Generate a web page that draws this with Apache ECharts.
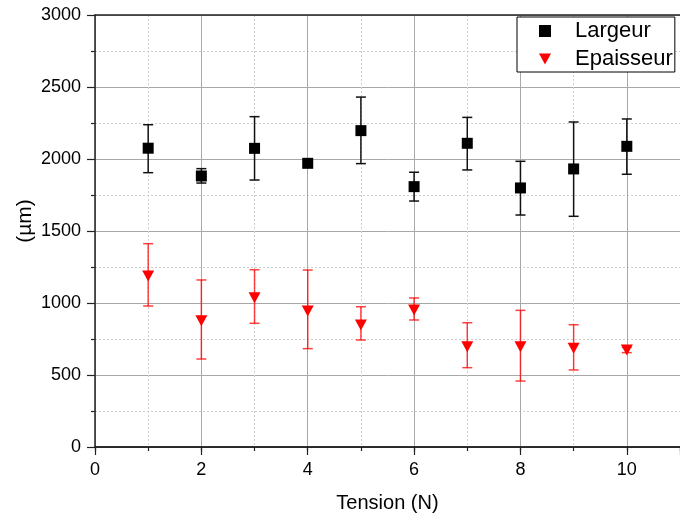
<!DOCTYPE html>
<html>
<head>
<meta charset="utf-8">
<script src="https://cdn.jsdelivr.net/npm/echarts@6/dist/echarts.min.js"></script>
<style>html,body{margin:0;padding:0;background:#fff}#c{width:680px;height:519px}</style>
</head>
<body>
<div id="c"></div>
<script>
const tension = [1, 2, 3, 4, 5, 6, 7, 8, 9, 10];
const largeur = [2075, 1882, 2074, 1970, 2197, 1808, 2109, 1799, 1931, 2088];
const largeurLow = [1905, 1833, 1854, 1960, 1968, 1708, 1924, 1611, 1602, 1894];
const largeurHigh = [2238, 1933, 2294, 1980, 2430, 1908, 2289, 1984, 2257, 2278];
const epaisseur = [1187, 877, 1037, 944, 847, 951, 697, 697, 685, 674];
const epaisseurLow = [979, 611, 859, 683, 743, 882, 551, 458, 535, 655];
const epaisseurHigh = [1412, 1160, 1231, 1229, 974, 1035, 863, 949, 849, 692];
const yTicks = [0, 500, 1000, 1500, 2000, 2500, 3000];
const xTickLabels = ['0', '2', '4', '6', '8', '10'];

const FONT = 'Liberation Sans, Arial, sans-serif';

function errRenderer(color, width) {
  return function (params, api) {
    const x = api.value(0), lo = api.value(1), hi = api.value(2);
    const pLo = api.coord([x, lo]);
    const pHi = api.coord([x, hi]);
    const hw = 5;
    const style = { stroke: color, lineWidth: width, fill: null };
    return {
      type: 'group',
      children: [
        { type: 'line', shape: { x1: pLo[0], y1: pLo[1], x2: pHi[0], y2: pHi[1] }, style: style },
        { type: 'line', shape: { x1: pLo[0] - hw, y1: pLo[1], x2: pLo[0] + hw, y2: pLo[1] }, style: style },
        { type: 'line', shape: { x1: pHi[0] - hw, y1: pHi[1], x2: pHi[0] + hw, y2: pHi[1] }, style: style }
      ]
    };
  };
}

const chart = echarts.init(document.getElementById('c'), null, { renderer: 'canvas' });
const downTri = 'path://M0,0 L10,0 L5,9 Z';

chart.setOption({
  animation: false,
  backgroundColor: '#fff',
  textStyle: { fontFamily: FONT },
  grid: { left: 95, right: 0, top: 15, bottom: 72, containLabel: false, outerBoundsMode: 'none' },
  legend: {
    orient: 'vertical',
    left: 517, top: 17,
    padding: [3, 2, 2, 22],
    itemGap: 6,
    itemWidth: 12, itemHeight: 12,
    borderColor: '#000', borderWidth: 1, backgroundColor: '#fff',
    textStyle: { fontSize: 22, color: '#000', fontFamily: FONT, padding: [0, 0, 0, 19] },
    data: [
      { name: 'Largeur', icon: 'rect', itemStyle: { color: '#000' } },
      { name: 'Epaisseur', icon: downTri }
    ]
  },
  xAxis: [
    { // minor ticks / minor grid
      type: 'value', position: 'bottom', min: 0, max: 11, interval: 1,
      axisLine: { show: true, onZero: false, lineStyle: { color: '#222', width: 1.5 } },
      axisTick: { show: true, length: 4, lineStyle: { color: '#222', width: 1.2 } },
      axisLabel: { show: false },
      splitLine: { show: true, lineStyle: { color: '#cfcfcf', type: [2, 2], width: 1 } }
    },
    { // major
      type: 'value', position: 'bottom', min: 0, max: 11, interval: 2,
      name: 'Tension (N)', nameLocation: 'middle', nameGap: 46,
      nameTextStyle: { fontSize: 20, color: '#000', fontFamily: FONT },
      axisLine: { show: true, onZero: false, lineStyle: { color: '#222', width: 1.5 } },
      axisTick: { show: true, length: 8, lineStyle: { color: '#222', width: 1.2 } },
      axisLabel: {
        show: true, fontSize: 18, color: '#000', margin: 14, fontFamily: FONT,
        formatter: function (v) { const i = xTickLabels.indexOf(String(v)); return i >= 0 ? xTickLabels[i] : ''; }
      },
      splitLine: { show: true, lineStyle: { color: '#a8a8a8', width: 1 } }
    },
    { // top spine
      type: 'value', position: 'top', min: 0, max: 11, interval: 2,
      axisLine: { show: true, onZero: false, lineStyle: { color: '#222', width: 1.5 } },
      axisTick: { show: false }, axisLabel: { show: false }, splitLine: { show: false }
    }
  ],
  yAxis: {
    type: 'value', min: 0, max: 3000, interval: 500,
    name: '(µm)', nameLocation: 'middle', nameGap: 59, nameRotate: 90, nameMoveOverlap: false,
    nameTextStyle: { fontSize: 21, color: '#000', fontFamily: FONT, padding: [0, 0, 0, 20] },
    axisLine: { show: true, onZero: false, lineStyle: { color: '#222', width: 1.5 } },
    axisTick: { show: true, length: 8, lineStyle: { color: '#222', width: 1.2 } },
    minorTick: { show: true, splitNumber: 2, length: 4, lineStyle: { color: '#222', width: 1.2 } },
    minorSplitLine: { show: true, lineStyle: { color: '#cfcfcf', type: [2, 2], width: 1 } },
    axisLabel: {
      fontSize: 18, color: '#000', margin: 14, fontFamily: FONT,
      formatter: function (v) { return yTicks.indexOf(v) >= 0 ? String(v) : ''; }
    },
    splitLine: { show: true, lineStyle: { color: '#a8a8a8', width: 1 } }
  },
  series: [
    {
      name: 'errL', type: 'custom', xAxisIndex: 1,
      renderItem: errRenderer('#111', 1.5),
      encode: { x: 0, y: [1, 2] },
      data: tension.map((t, i) => [t, largeurLow[i], largeurHigh[i]]),
      z: 2
    },
    {
      name: 'errE', type: 'custom', xAxisIndex: 1,
      renderItem: errRenderer('rgba(255,0,0,0.75)', 1.5),
      encode: { x: 0, y: [1, 2] },
      data: tension.map((t, i) => [t, epaisseurLow[i], epaisseurHigh[i]]),
      z: 2
    },
    {
      name: 'Largeur', type: 'scatter', xAxisIndex: 1,
      symbol: 'rect', symbolSize: 11,
      itemStyle: { color: '#000', opacity: 1 },
      data: tension.map((t, i) => [t, largeur[i]]),
      z: 3
    },
    {
      name: 'Epaisseur', type: 'scatter', xAxisIndex: 1,
      symbol: downTri, symbolSize: [12, 11],
      itemStyle: { color: '#ff0000', opacity: 1 },
      data: tension.map((t, i) => [t, epaisseur[i]]),
      z: 3
    }
  ]
});
</script>
</body>
</html>
